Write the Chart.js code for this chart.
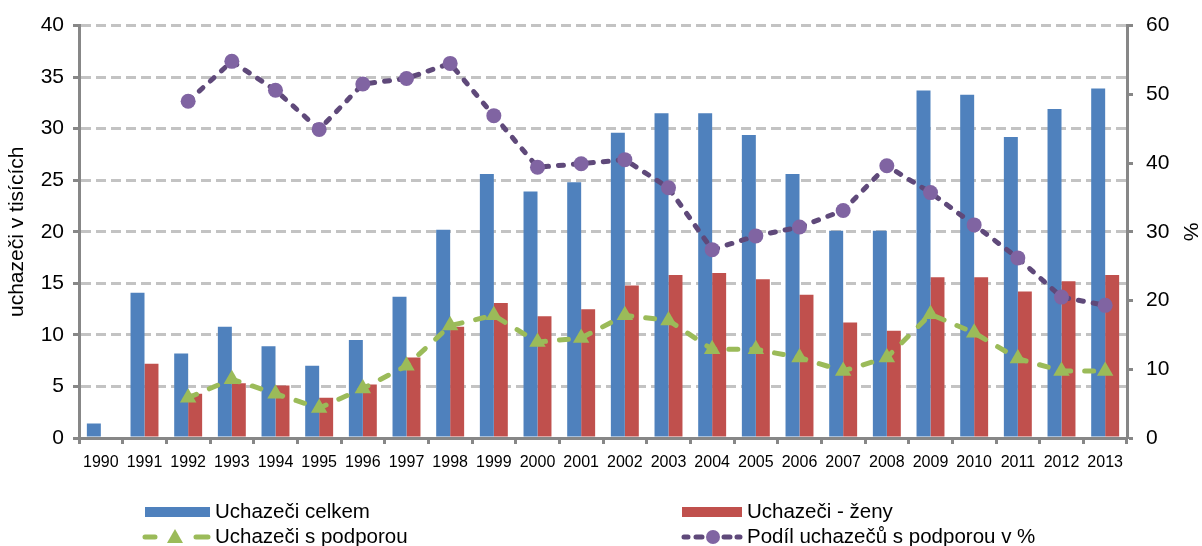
<!DOCTYPE html>
<html>
<head>
<meta charset="utf-8">
<script src="https://cdn.jsdelivr.net/npm/chart.js@4"></script>
<style>
  html, body { margin: 0; padding: 0; background: #ffffff; }
  #wrap { width: 1202px; height: 546px; position: relative; }
</style>
</head>
<body>
<div id="wrap"><canvas id="c" width="1202" height="546"></canvas></div>
<script>
const years = ['1990','1991','1992','1993','1994','1995','1996','1997','1998','1999','2000','2001','2002','2003','2004','2005','2006','2007','2008','2009','2010','2011','2012','2013'];
const uchazeciCelkem = [1.4,14.1,8.2,10.8,8.9,7.0,9.5,13.7,20.2,25.6,23.9,24.8,29.6,31.5,31.5,29.4,25.6,20.1,20.1,33.7,33.3,29.2,31.9,33.9];
const uchazeciZeny = [null,7.2,4.3,5.3,5.1,3.9,5.2,7.8,10.8,13.1,11.8,12.5,14.8,15.8,16.0,15.4,13.9,11.2,10.4,15.6,15.6,14.2,15.2,15.8];
const uchazeciSPodporou = [null,null,3.9,5.7,4.3,2.9,4.8,7.0,10.9,11.9,9.3,9.7,11.9,11.4,8.6,8.6,7.8,6.5,7.8,12.0,10.2,7.7,6.5,6.5];
const podilSPodporou = [null,null,49.0,54.8,50.6,44.9,51.5,52.3,54.5,46.9,39.4,39.9,40.5,36.4,27.4,29.4,30.7,33.1,39.6,35.7,31.0,26.2,20.5,19.3];
const leftTicks = [0,5,10,15,20,25,30,35,40];
const rightTicks = [0,10,20,30,40,50,60];

const labelsText = ['Uchazeči celkem','Uchazeči - ženy','Uchazeči s podporou','Podíl uchazečů s podporou v %'];

const FONT = '"Liberation Sans", Arial, sans-serif';
const BLUE = '#4F81BD', RED = '#C0504D', GREEN = '#9BBB59', PURPLE_LINE = '#5F497A', PURPLE_PT = '#8064A2';
const AXIS = '#878787', GRID = '#C3C3C3';

const legendPlugin = {
  id: 'customLegend',
  beforeDraw(chart) {
    const ctx = chart.ctx;
    ctx.save();
    ctx.fillStyle = '#ffffff';
    ctx.fillRect(0, 0, chart.width, chart.height);
    ctx.restore();
  },
  afterDraw(chart) {
    const ctx = chart.ctx;
    ctx.save();
    ctx.font = '20.5px ' + FONT;
    ctx.fillStyle = '#000000';
    ctx.textBaseline = 'middle';
    ctx.textAlign = 'left';
    const r1 = 512, r2 = 537;
    ctx.fillStyle = BLUE; ctx.fillRect(145, 507, 65, 10);
    ctx.fillStyle = RED; ctx.fillRect(682, 507, 60, 10);
    ctx.fillStyle = '#000000';
    ctx.fillText(chart.data.datasets[2].label, 215, r1);
    ctx.fillText(chart.data.datasets[3].label, 747, r1);
    // green item
    ctx.strokeStyle = GREEN; ctx.lineWidth = 5; ctx.lineCap = 'round';
    ctx.beginPath(); ctx.moveTo(145, r2); ctx.lineTo(155, r2); ctx.moveTo(196, r2); ctx.lineTo(208, r2); ctx.stroke();
    ctx.fillStyle = GREEN;
    ctx.beginPath(); ctx.moveTo(175, r2 - 8); ctx.lineTo(183, r2 + 6); ctx.lineTo(167, r2 + 6); ctx.closePath(); ctx.fill();
    // purple item
    ctx.strokeStyle = PURPLE_LINE; ctx.lineWidth = 5;
    ctx.beginPath();
    ctx.moveTo(684, r2); ctx.lineTo(688, r2);
    ctx.moveTo(696, r2); ctx.lineTo(702, r2);
    ctx.moveTo(724, r2); ctx.lineTo(730, r2);
    ctx.moveTo(737, r2); ctx.lineTo(740, r2);
    ctx.stroke();
    ctx.fillStyle = PURPLE_PT;
    ctx.beginPath(); ctx.arc(713, r2, 7, 0, Math.PI * 2); ctx.fill();
    ctx.fillStyle = '#000000';
    ctx.fillText(chart.data.datasets[1].label, 215, r2);
    ctx.fillText(chart.data.datasets[0].label, 747, r2);
    ctx.restore();
  }
};

new Chart(document.getElementById('c'), {
  type: 'bar',
  data: {
    labels: years,
    datasets: [
      {
        type: 'line', label: labelsText[3], data: podilSPodporou, yAxisID: 'y2', order: 0,
        borderColor: PURPLE_LINE, borderWidth: 5, borderDash: [5, 10], borderCapStyle: 'round',
        pointStyle: 'circle', pointRadius: 7.5, pointBackgroundColor: PURPLE_PT, pointBorderWidth: 0,
        fill: false, tension: 0, spanGaps: false
      },
      {
        type: 'line', label: labelsText[2], data: uchazeciSPodporou, yAxisID: 'y', order: 1,
        borderColor: GREEN, borderWidth: 5, borderDash: [9, 14], borderCapStyle: 'round',
        pointStyle: 'triangle', pointRadius: 9.5, pointBackgroundColor: GREEN, pointBorderWidth: 0,
        fill: false, tension: 0
      },
      {
        type: 'bar', label: labelsText[0], data: uchazeciCelkem, yAxisID: 'y', order: 2,
        backgroundColor: BLUE, borderWidth: 0,
        barPercentage: 1.0, categoryPercentage: 0.64
      },
      {
        type: 'bar', label: labelsText[1], data: uchazeciZeny, yAxisID: 'y', order: 3,
        backgroundColor: RED, borderWidth: 0,
        barPercentage: 1.0, categoryPercentage: 0.64
      }
    ]
  },
  options: {
    responsive: false,
    animation: false,
    devicePixelRatio: 1,
    layout: { padding: { top: 22, left: 0, right: 0, bottom: 0 } },
    plugins: { legend: { display: false }, tooltip: { enabled: false } },
    scales: {
      x: {
        position: 'bottom',
        offset: true,
        grid: { display: true, offset: true, drawOnChartArea: false, drawTicks: true, tickLength: 6, tickColor: AXIS, tickWidth: 3 },
        border: { display: true, color: AXIS, width: 3 },
        ticks: { color: '#000000', font: { family: FONT, size: 16 }, padding: 9, maxRotation: 0, autoSkip: false },
        afterFit(s) { s.height = 546 - 438; }
      },
      y: {
        position: 'left',
        min: 0, max: 40,
        afterBuildTicks(s) { s.ticks = leftTicks.map(v => ({ value: v })); },
        grid: { display: true, color: GRID, lineWidth: 3, drawOnChartArea: true, drawTicks: true, tickLength: 6, tickColor: AXIS, tickWidth: 3, tickBorderDash: [] },
        border: { display: true, color: AXIS, width: 3, dash: [10, 5] },
        ticks: { color: '#000000', font: { family: FONT, size: 21 }, padding: 9 },
        title: { display: true, text: 'uchazeči v tisících', color: '#000000', font: { family: FONT, size: 21 }, padding: { top: 5, bottom: 0 } },
        afterFit(s) { s.width = 79; }
      },
      y2: {
        position: 'right',
        min: 0, max: 60,
        afterBuildTicks(s) { s.ticks = rightTicks.map(v => ({ value: v })); },
        grid: { display: true, drawOnChartArea: false, drawTicks: true, tickLength: 6, tickColor: AXIS, tickWidth: 3, tickBorderDash: [] },
        border: { display: true, color: AXIS, width: 3 },
        ticks: { color: '#000000', font: { family: FONT, size: 21 }, padding: 13 },
        title: { display: true, text: '%', color: '#000000', font: { family: FONT, size: 21 }, padding: { top: 0, bottom: 0 } },
        afterFit(s) { s.width = 1202 - 1127; }
      }
    }
  },
  plugins: [legendPlugin]
});
</script>
</body>
</html>
